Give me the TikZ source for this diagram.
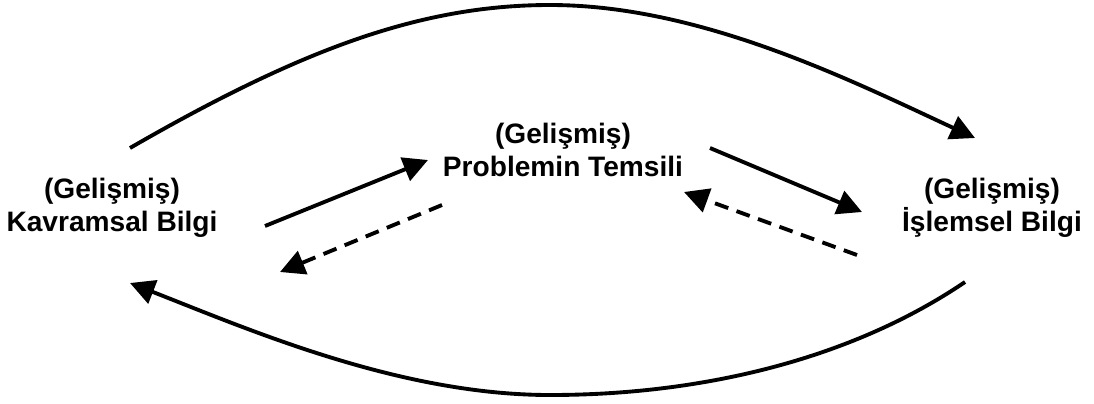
\documentclass[tikz,border=0pt]{standalone}
\usepackage{fontspec}
\setmainfont{Liberation Sans}
\usetikzlibrary{arrows.meta}
\tikzset{
  bilgi/.style = {align=center, font=\bfseries\fontsize{16}{19}\selectfont, inner sep=0},
  ok/.style    = {line width=2.2pt, -{Triangle[length=14pt, width=14pt]}},
  kesik/.style = {ok, dash pattern=on 8pt off 5pt}
}
\begin{document}
\begin{tikzpicture}[x=0.02cm, y=-0.02cm]
  \useasboundingbox (0,0) rectangle (1094,403);

  \node[bilgi] (K) at (112,208) {(Gelişmiş)\\Kavramsal Bilgi};
  \node[bilgi] (P) at (563,150) {(Gelişmiş)\\Problemin Temsili};
  \node[bilgi] (I) at (992,208) {(Gelişmiş)\\İşlemsel Bilgi};

  % ust ve alt egriler
  \coordinate (ku) at (130,148); \coordinate (iu) at (975,138);
  \coordinate (ia) at (965,282); \coordinate (ka) at (130,283);
  \draw[ok] (ku) .. controls (300,50) and (420,5) .. (550,5) .. controls (700,5) and (850,80) .. (iu);
  \draw[ok] (ia) .. controls (850,360) and (700,395) .. (550,395) .. controls (400,395) and (250,330) .. (ka);

  % orta oklar
  \coordinate (k1) at (265,226); \coordinate (p1) at (428,160);
  \coordinate (p2) at (442,205); \coordinate (k2) at (280,272);
  \coordinate (p3) at (710,148); \coordinate (i3) at (862,212);
  \coordinate (i4) at (857,255); \coordinate (p4) at (684,192);
  \draw[ok]    (k1) -- (p1);
  \draw[kesik] (p2) -- (k2);
  \draw[ok]    (p3) -- (i3);
  \draw[kesik] (i4) -- (p4);
\end{tikzpicture}
\end{document}
